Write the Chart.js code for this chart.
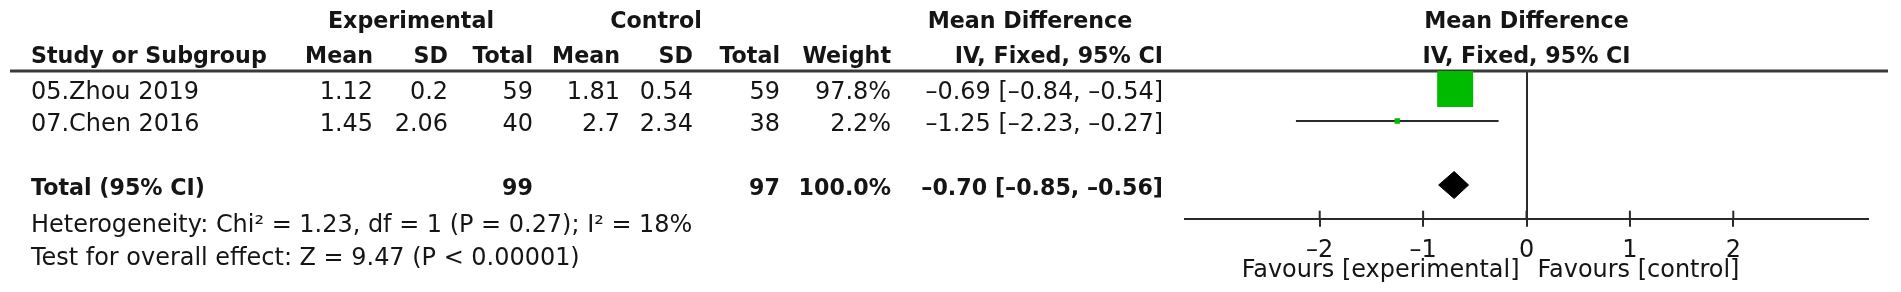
<!DOCTYPE html>
<html><head><meta charset="utf-8">
<script src="https://cdn.jsdelivr.net/npm/chart.js@4.4.1/dist/chart.umd.min.js"></script>
<style>
html,body{margin:0;padding:0;background:#fff;overflow:hidden;}
#wrap{position:relative;width:1901px;height:292px;}
</style></head><body>
<div id="wrap"><canvas id="c"></canvas></div>
<script>
// ---------- data ----------
const studies = ['05.Zhou 2019', '07.Chen 2016'];
const expMean = [1.12, 1.45];
const expSD = [0.2, 2.06];
const expTotal = [59, 40];
const ctrlMean = [1.81, 2.7];
const ctrlSD = [0.54, 2.34];
const ctrlTotal = [59, 38];
const weights = [97.8, 2.2];
const meanDiff = [-0.69, -1.25];
const ciLow = [-0.84, -2.23];
const ciHigh = [-0.54, -0.27];
const totalLabel = 'Total (95% CI)';
const totalExp = [99];
const totalCtrl = [97];
const totalWeight = [100.0];
const totalMD = [-0.70];
const totalLow = [-0.85];
const totalHigh = [-0.56];
const heterogeneityText = 'Heterogeneity: Chi\u00B2 = 1.23, df = 1 (P = 0.27); I\u00B2 = 18%';
const overallText = 'Test for overall effect: Z = 9.47 (P < 0.00001)';
const tickValues = [-2, -1, 0, 1, 2];
const axisRange = [-3.3, 3.3];
const favoursLabels = ['Favours [experimental]', 'Favours [control]'];
const groupHeaders = ['Experimental', 'Control', 'Mean Difference'];
const colHeaders = ['Study or Subgroup', 'Mean', 'SD', 'Total', 'Mean', 'SD', 'Total', 'Weight', 'IV, Fixed, 95% CI'];

// ---------- layout / style ----------
const FONT = '"DejaVu Sans", sans-serif';
const TXT = '#151515';
const LINE = '#2a2a2a';
const GREEN = 'rgb(0,186,0)';
const DASH = '\u2013';
const mctx = document.createElement('canvas').getContext('2d');
function fitSize(text, weight, target) {
  mctx.font = weight + ' 100px ' + FONT;
  return 100 * target / mctx.measureText(text).width;
}
const REG = fitSize(overallText, 'normal', 549);
const BOLD = fitSize('Study or Subgroup', 'bold', 236);

const colX = [31, 373, 448, 533, 620, 693, 780, 891, 1163]; // left for col 0, right for others
const groupCenters = [411, 656, 1030];
const totalRow = 4;
const rowHalf = 13.5 / 32; // diamond half-height in row units

function fmtNum(v, d) {
  const s = (d === undefined) ? String(v) : v.toFixed(d);
  return s.replace('-', DASH);
}
function fmtCI(m, lo, hi) {
  return fmtNum(m, 2) + ' [' + fmtNum(lo, 2) + ', ' + fmtNum(hi, 2) + ']';
}

// ---------- datasets ----------
const datasets = [];
datasets.push({
  label: 'studies',
  data: meanDiff.map((m, i) => ({x: m, y: i + 1})),
  pointStyle: 'rect',
  pointRadius: weights.map(w => 2.574 * Math.sqrt(w)),
  backgroundColor: GREEN,
  borderWidth: 0,
  showLine: false,
  order: 0
});
studies.forEach((s, i) => {
  datasets.push({
    label: 'ci' + i,
    data: [{x: ciLow[i], y: i + 1}, {x: ciHigh[i], y: i + 1}],
    showLine: true,
    borderColor: LINE,
    borderWidth: 2,
    pointRadius: 0,
    order: 1
  });
});
datasets.push({
  label: 'total',
  data: [
    {x: totalLow[0], y: totalRow},
    {x: totalMD[0], y: totalRow - rowHalf},
    {x: totalHigh[0], y: totalRow},
    {x: totalMD[0], y: totalRow + rowHalf},
    {x: totalLow[0], y: totalRow}
  ],
  showLine: true,
  fill: 'shape',
  backgroundColor: '#000',
  borderColor: '#000',
  borderWidth: 1,
  pointRadius: 0,
  tension: 0,
  order: 0
});

// ---------- plugin for table text ----------
const tablePlugin = {
  id: 'forestTable',
  beforeDatasetsDraw(chart) {
    const {ctx, chartArea} = chart;
    ctx.save();
    ctx.strokeStyle = '#3a3a3a';
    ctx.lineWidth = 3;
    ctx.beginPath();
    ctx.moveTo(10, chartArea.top);
    ctx.lineTo(1888, chartArea.top);
    ctx.stroke();
    ctx.restore();
  },
  afterDraw(chart) {
    const {ctx, chartArea, scales: {x, y}} = chart;
    ctx.save();
    ctx.fillStyle = TXT;
    ctx.textBaseline = 'alphabetic';
    function t(s, px, py, align, bold) {
      ctx.font = (bold ? 'bold ' + BOLD : 'normal ' + REG) + 'px ' + FONT;
      ctx.textAlign = align;
      ctx.fillText(s, px, py);
    }
    // header row 1
    t(groupHeaders[0], groupCenters[0], 28, 'center', true);
    t(groupHeaders[1], groupCenters[1], 28, 'center', true);
    t(groupHeaders[2], groupCenters[2], 28, 'center', true);
    const plotC = (chartArea.left + chartArea.right) / 2;
    t(groupHeaders[2], plotC, 28, 'center', true);
    // header row 2
    colHeaders.forEach((h, i) => t(h, colX[i], 63, i === 0 ? 'left' : 'right', true));
    t(colHeaders[8], plotC, 63, 'center', true);
    // study rows
    studies.forEach((s, i) => {
      const yb = y.getPixelForValue(i + 1) + 10.5;
      const vals = [s, fmtNum(expMean[i]), fmtNum(expSD[i]), String(expTotal[i]),
        fmtNum(ctrlMean[i]), fmtNum(ctrlSD[i]), String(ctrlTotal[i]),
        weights[i].toFixed(1) + '%', fmtCI(meanDiff[i], ciLow[i], ciHigh[i])];
      vals.forEach((v, j) => t(v, colX[j], yb, j === 0 ? 'left' : 'right', false));
    });
    // total row
    const tb = y.getPixelForValue(totalRow) + 10;
    t(totalLabel, colX[0], tb, 'left', true);
    t(String(totalExp[0]), colX[3], tb, 'right', true);
    t(String(totalCtrl[0]), colX[6], tb, 'right', true);
    t(totalWeight[0].toFixed(1) + '%', colX[7], tb, 'right', true);
    t(fmtCI(totalMD[0], totalLow[0], totalHigh[0]), colX[8], tb, 'right', true);
    // footer
    t(heterogeneityText, colX[0], 232, 'left', false);
    t(overallText, colX[0], 265, 'left', false);
    // upper half of tick marks (lower half is drawn by the scale itself)
    ctx.strokeStyle = LINE;
    ctx.lineWidth = 2;
    x.ticks.forEach((tk) => {
      const px = x.getPixelForValue(tk.value);
      ctx.beginPath();
      ctx.moveTo(px, chartArea.bottom - 8);
      ctx.lineTo(px, chartArea.bottom + 1);
      ctx.stroke();
    });
    // favours labels
    const zx = x.getPixelForValue(0);
    t(favoursLabels[0], zx - 7, chartArea.bottom + 58, 'right', false);
    t(favoursLabels[1], zx + 11, chartArea.bottom + 58, 'left', false);
    ctx.restore();
  }
};

new Chart(document.getElementById('c'), {
  type: 'scatter',
  data: {datasets},
  options: {
    responsive: true,
    maintainAspectRatio: false,
    animation: false,
    events: [],
    devicePixelRatio: 1,
    layout: {padding: {left: 1185.3, right: 33.3, top: 71, bottom: 0}},
    plugins: {legend: {display: false}, tooltip: {enabled: false}},
    scales: {
      x: {
        type: 'linear',
        min: axisRange[0],
        max: axisRange[1],
        afterBuildTicks: (s) => { s.ticks = tickValues.map(v => ({value: v})); },
        afterFit: (s) => { s.height = 73.3; },
        grid: {
          drawTicks: true,
          tickLength: 8,
          tickColor: LINE,
          tickWidth: 2,
          lineWidth: 2,
          color: (c) => (c.tick && c.tick.value === 0) ? LINE : 'rgba(0,0,0,0)'
        },
        border: {display: true, color: LINE, width: 2},
        ticks: {
          padding: 10,
          color: TXT,
          font: {family: FONT, size: REG},
          callback: (v) => fmtNum(v)
        }
      },
      y: {
        type: 'linear',
        display: false,
        reverse: true,
        min: 0.4375,
        max: 5.0535
      }
    }
  },
  plugins: [tablePlugin]
});
</script>
</body></html>
